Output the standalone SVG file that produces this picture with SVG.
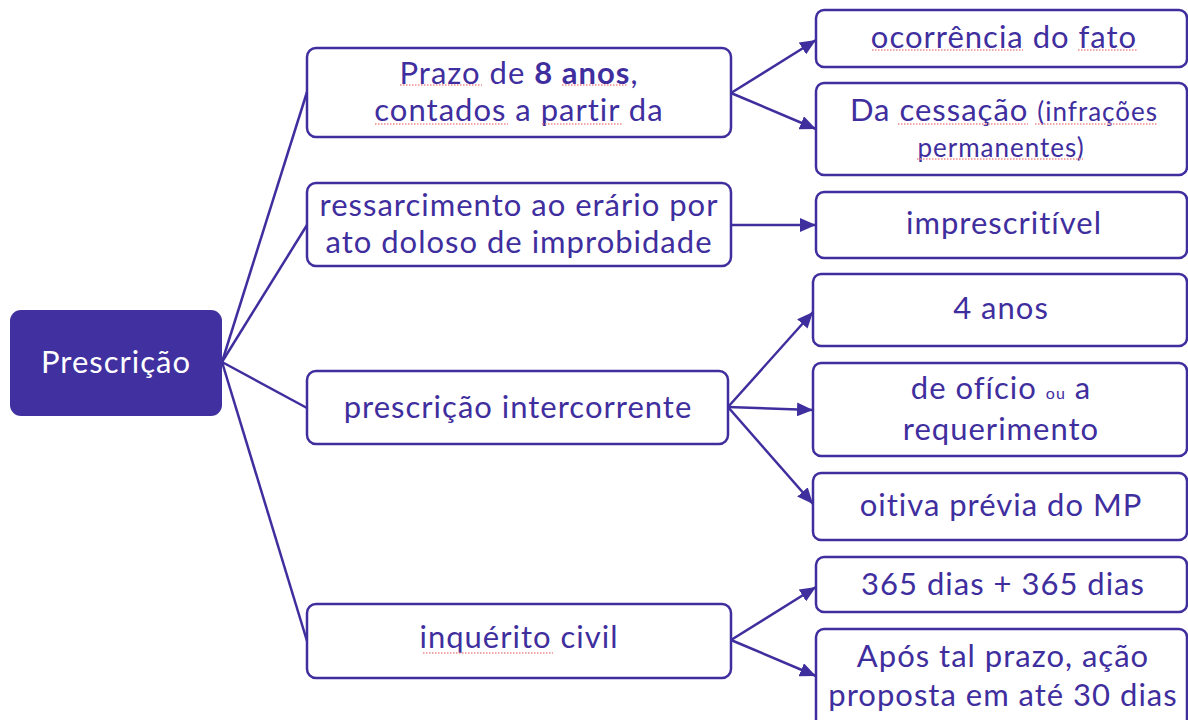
<svg xmlns="http://www.w3.org/2000/svg" width="1188" height="720" viewBox="0 0 1188 720">
<style>
.box{fill:#fff;stroke:#3F2E9E;stroke-width:2.5}
.root{fill:#4030A0;stroke:none}
.t{font-family:Lato,"Noto Sans",sans-serif;font-size:31px;letter-spacing:1px;fill:#3F2E9E;text-anchor:middle}
.w{fill:#fff}
.sm{font-size:26px}
.xs{font-size:16px}
.b{font-weight:bold}
.c{stroke:#3F2E9E;stroke-width:2.5;fill:none}
.sq{stroke:#F08A8A;stroke-width:1.5;stroke-dasharray:1.5 1.5;fill:none}
</style>
<defs>
<marker id="a" viewBox="0 0 16 14" refX="16" refY="7" markerWidth="16" markerHeight="14" orient="auto" markerUnits="userSpaceOnUse">
<path d="M0,0 L16,7 L0,14 z" fill="#3F2E9E"/>
</marker>
</defs>
<g id="connectors">
<line class="c" x1="222" y1="362" x2="307" y2="92"/>
<line class="c" x1="222" y1="362" x2="307" y2="225"/>
<line class="c" x1="222" y1="362" x2="307" y2="408"/>
<line class="c" x1="222" y1="362" x2="307" y2="641"/>
<line class="c" x1="731" y1="93" x2="816" y2="40" marker-end="url(#a)"/>
<line class="c" x1="731" y1="93" x2="816" y2="129" marker-end="url(#a)"/>
<line class="c" x1="730" y1="225" x2="816" y2="225" marker-end="url(#a)"/>
<line class="c" x1="728" y1="407" x2="813" y2="312" marker-end="url(#a)"/>
<line class="c" x1="728" y1="407" x2="813" y2="410" marker-end="url(#a)"/>
<line class="c" x1="728" y1="407" x2="813" y2="504" marker-end="url(#a)"/>
<line class="c" x1="731" y1="640" x2="816" y2="587" marker-end="url(#a)"/>
<line class="c" x1="731" y1="640" x2="816" y2="676" marker-end="url(#a)"/>
</g>
<g id="root">
<rect class="root" x="10" y="310" width="212" height="106" rx="11"/>
<text class="t w" x="116" y="373">Prescrição</text>
</g>
<g id="n1">
<rect class="box" x="307" y="48" width="424" height="89" rx="9"/>
<text class="t" x="519" y="84">Prazo de <tspan class="b">8 anos</tspan>,</text>
<text class="t" x="519" y="121">contados a partir da</text>
</g>
<g id="n2">
<rect class="box" x="307" y="183" width="424" height="83" rx="9"/>
<text class="t" x="519" y="216">ressarcimento ao erário por</text>
<text class="t" x="519" y="253">ato doloso de improbidade</text>
</g>
<g id="n3">
<rect class="box" x="307" y="371" width="421" height="73" rx="9"/>
<text class="t" x="518" y="418">prescrição intercorrente</text>
</g>
<g id="n4">
<rect class="box" x="307" y="604" width="424" height="74" rx="9"/>
<text class="t" x="519" y="648">inquérito civil</text>
</g>
<g id="r1">
<rect class="box" x="816" y="10" width="371" height="57" rx="8"/>
<text class="t" x="1004" y="48">ocorrência do fato</text>
</g>
<g id="r2">
<rect class="box" x="816" y="83" width="371" height="92" rx="8"/>
<text class="t" x="1004" y="121">Da cessação <tspan class="sm">(infrações</tspan></text>
<text class="t sm" x="1001" y="157">permanentes)</text>
</g>
<g id="r3">
<rect class="box" x="816" y="192" width="371" height="66" rx="8"/>
<text class="t" x="1004" y="234">imprescritível</text>
</g>
<g id="r4">
<rect class="box" x="813" y="274" width="374" height="72" rx="8"/>
<text class="t" x="1001" y="319">4 anos</text>
</g>
<g id="r5">
<rect class="box" x="813" y="363" width="374" height="93" rx="8"/>
<text class="t" x="1001" y="399">de ofício <tspan class="xs">ou</tspan> a</text>
<text class="t" x="1001" y="440">requerimento</text>
</g>
<g id="r6">
<rect class="box" x="813" y="473" width="374" height="67" rx="8"/>
<text class="t" x="1001" y="516">oitiva prévia do MP</text>
</g>
<g id="r7">
<rect class="box" x="816" y="557" width="371" height="55" rx="8"/>
<text class="t" x="1003" y="595">365 dias + 365 dias</text>
</g>
<g id="r8">
<rect class="box" x="816" y="629" width="371" height="100" rx="8"/>
<text class="t" x="1003" y="667">Após tal prazo, ação</text>
<text class="t" x="1003" y="706">proposta em até 30 dias</text>
</g>
<g id="spellcheck">
<line class="sq" x1="400" y1="85" x2="482" y2="85"/>
<line class="sq" x1="562" y1="85" x2="628" y2="85"/>
<line class="sq" x1="375" y1="124" x2="508" y2="124"/>
<line class="sq" x1="542" y1="124" x2="622" y2="124"/>
<line class="sq" x1="872" y1="50" x2="1023" y2="50"/>
<line class="sq" x1="1078" y1="50" x2="1137" y2="50"/>
<line class="sq" x1="898" y1="124" x2="1028" y2="124"/>
<line class="sq" x1="1035" y1="124" x2="1158" y2="124"/>
<line class="sq" x1="917" y1="159" x2="1083" y2="159"/>
<line class="sq" x1="423" y1="653" x2="553" y2="653"/>
</g>
</svg>
